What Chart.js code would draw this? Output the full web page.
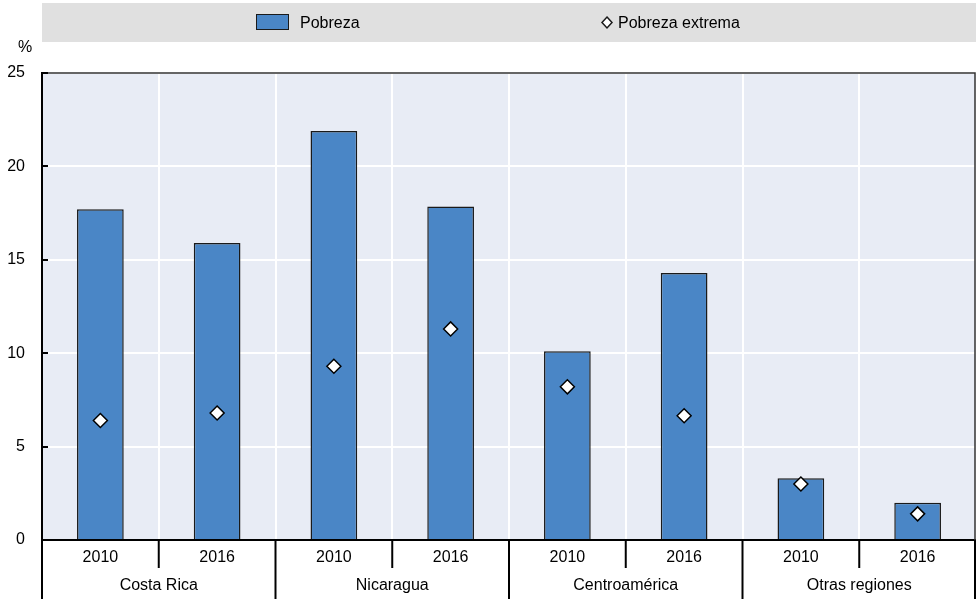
<!DOCTYPE html>
<html lang="es">
<head>
  <meta charset="UTF-8">
  <title>Pobreza</title>
  <script src="https://cdn.jsdelivr.net/npm/chart.js"></script>
  <style>
    html, body { margin: 0; padding: 0; background: #fff; overflow: hidden; }
    canvas { display: block; }
  </style>
</head>
<body>
  <canvas id="myChart" width="976" height="599"></canvas>
  <script>
// data
const years = ['2010', '2016', '2010', '2016', '2010', '2016', '2010', '2016'];
const groups = ['Costa Rica', 'Nicaragua', 'Centroamérica', 'Otras regiones'];
const pobreza = [17.7, 15.9, 21.9, 17.85, 10.1, 14.3, 3.3, 2.0];
const pobrezaExtrema = [6.4, 6.8, 9.3, 11.3, 8.2, 6.65, 3.0, 1.4];
const yTicks = [0, 5, 10, 15, 20, 25];

const FONT = "'Liberation Sans Narrow', 'Liberation Sans', Arial, sans-serif";
const SIZE = 16;

const decorations = {
  id: 'decorations',
  beforeDraw(chart) {
    const { ctx, chartArea: a } = chart;
    ctx.save();
    ctx.fillStyle = '#e8ecf5';
    ctx.fillRect(a.left, a.top, a.right - a.left, a.bottom - a.top);
    ctx.restore();
  },
  afterDraw(chart) {
    const { ctx, chartArea: a } = chart;
    const x = chart.scales.x, y = chart.scales.y;
    ctx.save();

    // legend box
    ctx.fillStyle = '#e0e0e0';
    ctx.fillRect(a.left, 3, a.right - a.left, 39);
    ctx.fillStyle = '#4a86c6';
    ctx.strokeStyle = '#1a1a1a';
    ctx.lineWidth = 1;
    ctx.fillRect(256.5, 14.5, 32, 15);
    ctx.strokeRect(256.5, 14.5, 32, 15);
    ctx.font = SIZE + 'px ' + FONT;
    ctx.fillStyle = '#000';
    ctx.textBaseline = 'middle';
    ctx.textAlign = 'left';
    ctx.fillText('Pobreza', 300, 23.5);
    ctx.beginPath();
    ctx.moveTo(607, 17); ctx.lineTo(612, 22.5); ctx.lineTo(607, 28); ctx.lineTo(602, 22.5);
    ctx.closePath();
    ctx.fillStyle = '#fff';
    ctx.fill();
    ctx.lineWidth = 1.5;
    ctx.stroke();
    ctx.fillStyle = '#000';
    ctx.fillText('Pobreza extrema', 618, 23.5);

    // % unit
    ctx.textAlign = 'center';
    ctx.fillText('%', 25, 47.5);

    // frame top and right
    ctx.strokeStyle = '#333';
    ctx.lineWidth = 1.5;
    ctx.beginPath();
    ctx.moveTo(a.left, a.top); ctx.lineTo(a.right - 1, a.top); ctx.lineTo(a.right - 1, a.bottom);
    ctx.stroke();

    // y tick marks inside plot
    ctx.strokeStyle = '#000';
    ctx.lineWidth = 2;
    yTicks.forEach(v => {
      const py = Math.round(y.getPixelForValue(v));
      ctx.beginPath();
      ctx.moveTo(a.left, py); ctx.lineTo(a.left + 6, py);
      ctx.stroke();
    });

    // x axis separators
    const half = (x.getPixelForValue(1) - x.getPixelForValue(0)) / 2;
    ctx.lineWidth = 2;
    for (let i = 0; i <= years.length; i++) {
      const px = i === years.length ? a.right - 1 : x.getPixelForValue(i) - half;
      const groupEdge = i % 2 === 0;
      ctx.beginPath();
      ctx.moveTo(px, a.bottom);
      ctx.lineTo(px, groupEdge ? 599 : 568);
      ctx.stroke();
    }

    // group labels
    ctx.fillStyle = '#000';
    ctx.textAlign = 'center';
    groups.forEach((g, gi) => {
      const cx = (x.getPixelForValue(gi * 2) + x.getPixelForValue(gi * 2 + 1)) / 2;
      ctx.fillText(g, cx, 585.5);
    });
    ctx.restore();
  }
};

const ctx = document.getElementById('myChart').getContext('2d');
new Chart(ctx, {
  data: {
    labels: years,
    datasets: [{
      type: 'bar',
      label: 'Pobreza',
      data: pobreza,
      backgroundColor: '#4a86c6',
      borderColor: '#1a1a1a',
      borderWidth: 1.5,
      barPercentage: 0.4,
      categoryPercentage: 1,
      order: 2
    }, {
      type: 'line',
      label: 'Pobreza extrema',
      data: pobrezaExtrema,
      showLine: false,
      pointStyle: 'rectRot',
      pointRadius: 7,
      pointHoverRadius: 7,
      pointBackgroundColor: '#fff',
      pointBorderColor: '#000',
      pointBorderWidth: 1.5,
      order: 1
    }]
  },
  options: {
    responsive: false,
    animation: false,
    layout: { autoPadding: false, padding: { top: 73, right: 0, left: 0, bottom: 0 } },
    plugins: {
      legend: { display: false },
      tooltip: { enabled: false }
    },
    scales: {
      x: {
        offset: true,
        afterFit(scale) { scale.height = 59; },
        grid: { offset: true, color: '#fff', lineWidth: 2, drawTicks: false },
        border: { display: true, color: '#000', width: 2 },
        ticks: { color: '#000', font: { family: FONT, size: SIZE }, padding: 8, maxRotation: 0 }
      },
      y: {
        min: 0,
        max: 25,
        afterFit(scale) { scale.width = 42; },
        afterBuildTicks(scale) { scale.ticks = yTicks.map(v => ({ value: v })); },
        grid: { color: '#fff', lineWidth: 2, drawTicks: false },
        border: { display: true, color: '#000', width: 2 },
        ticks: { color: '#000', font: { family: FONT, size: SIZE }, padding: 17 }
      }
    }
  },
  plugins: [decorations]
});
  </script>
</body>
</html>
